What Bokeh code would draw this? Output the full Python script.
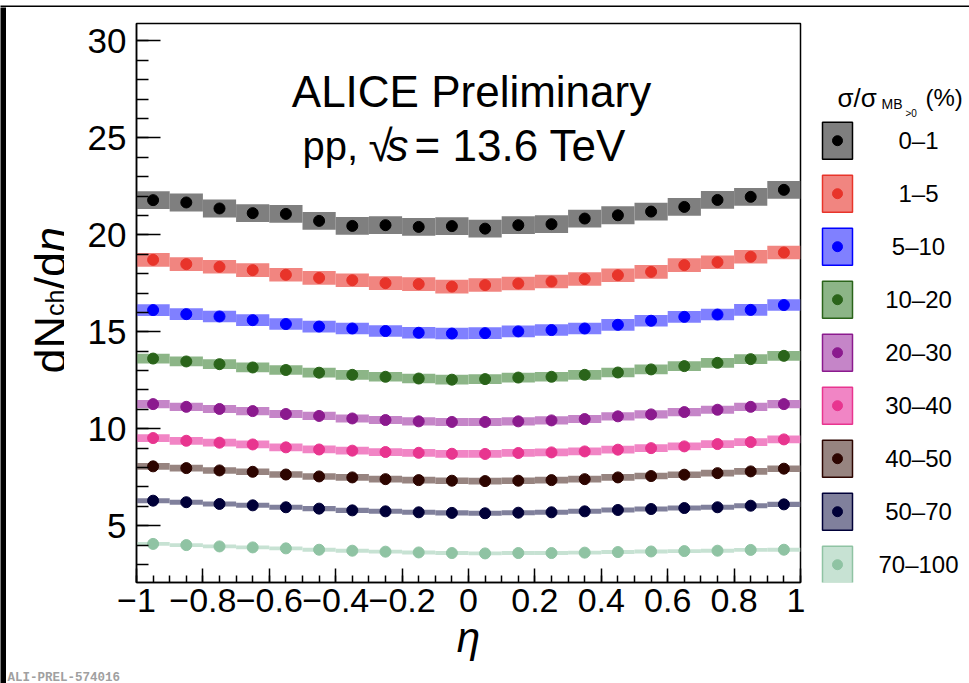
import numpy as np
from bokeh.plotting import figure
from bokeh.layouts import row, column
from bokeh.models import (ColumnDataSource, FixedTicker, CustomJSTickFormatter, Label, Range1d)
from bokeh.embed import file_html
from bokeh.resources import INLINE

# ---------------- data ----------------
eta = [-0.95, -0.85, -0.75, -0.65, -0.55, -0.45, -0.35, -0.25, -0.15, -0.05,
       0.05, 0.15, 0.25, 0.35, 0.45, 0.55, 0.65, 0.75, 0.85, 0.95]
bin_half_width = 0.05

classes = ["0\u20131", "1\u20135", "5\u201310", "10\u201320", "20\u201330",
           "30\u201340", "40\u201350", "50\u201370", "70\u2013100"]

dndeta_0_1 = [21.79, 21.67, 21.36, 21.12, 21.08, 20.72, 20.46, 20.50, 20.41, 20.45,
              20.32, 20.50, 20.55, 20.84, 21.01, 21.20, 21.44, 21.80, 21.96, 22.32]
dndeta_1_5 = [18.71, 18.49, 18.35, 18.18, 17.94, 17.78, 17.66, 17.51, 17.46, 17.33,
              17.41, 17.49, 17.59, 17.72, 17.92, 18.09, 18.44, 18.59, 18.87, 19.09]
dndeta_5_10 = [16.12, 15.91, 15.79, 15.60, 15.40, 15.27, 15.17, 15.04, 14.95, 14.91,
               14.93, 15.02, 15.09, 15.17, 15.36, 15.57, 15.77, 15.89, 16.13, 16.38]
dndeta_10_20 = [13.62, 13.47, 13.33, 13.16, 13.03, 12.89, 12.78, 12.68, 12.59, 12.53,
                12.56, 12.64, 12.68, 12.78, 12.90, 13.06, 13.23, 13.40, 13.59, 13.76]
dndeta_20_30 = [11.27, 11.13, 11.02, 10.91, 10.76, 10.66, 10.53, 10.45, 10.38, 10.35,
                10.35, 10.38, 10.43, 10.50, 10.64, 10.74, 10.86, 10.98, 11.13, 11.27]
dndeta_30_40 = [9.52, 9.38, 9.28, 9.19, 9.04, 8.93, 8.87, 8.80, 8.76, 8.71,
                8.70, 8.75, 8.78, 8.83, 8.92, 9.00, 9.09, 9.21, 9.31, 9.45]
dndeta_40_50 = [8.06, 7.97, 7.85, 7.78, 7.64, 7.54, 7.49, 7.40, 7.35, 7.32,
                7.30, 7.32, 7.35, 7.40, 7.49, 7.56, 7.63, 7.71, 7.80, 7.94]
dndeta_50_70 = [6.29, 6.21, 6.12, 6.05, 5.95, 5.88, 5.79, 5.74, 5.69, 5.66,
                5.64, 5.67, 5.69, 5.74, 5.81, 5.86, 5.91, 5.95, 6.03, 6.10]
dndeta_70_100 = [4.06, 4.00, 3.93, 3.88, 3.83, 3.76, 3.71, 3.66, 3.62, 3.59,
                 3.57, 3.59, 3.59, 3.61, 3.64, 3.67, 3.69, 3.71, 3.75, 3.76]

series = [dndeta_0_1, dndeta_1_5, dndeta_5_10, dndeta_10_20, dndeta_20_30,
          dndeta_30_40, dndeta_40_50, dndeta_50_70, dndeta_70_100]
sys_err = [0.46, 0.35, 0.30, 0.25, 0.21, 0.20, 0.17, 0.13, 0.10]

marker_colors = ["#000000", "#e8342a", "#0000ff", "#2a641a", "#8b1a8e",
                 "#e8358f", "#2d0500", "#000038", "#8fc3a3"]
box_colors = ["#7f7f7f", "#f18580", "#8080ff", "#8cb587", "#c585c8",
              "#f185c5", "#978480", "#80809c", "#c7e2d3"]

x_major = [-1.0, -0.8, -0.6, -0.4, -0.2, 0.0, 0.2, 0.4, 0.6, 0.8, 1.0]
y_major = [5, 10, 15, 20, 25, 30]

FONT = "Liberation Sans"


def blank(w, h, fill="white", xr=(0, 1), yr=(0, 1)):
    f = figure(width=w, height=h, x_range=Range1d(*xr), y_range=Range1d(*yr),
               x_axis_type=None, y_axis_type=None, output_backend="svg",
               toolbar_location=None, min_border=0, outline_line_color=None)
    f.background_fill_color = fill
    f.border_fill_color = fill
    return f


def lab(fig, x, y, text, size, style="normal", align="left", angle=0.0, color="black",
        font=FONT, baseline="alphabetic"):
    fig.add_layout(Label(x=x, y=y, x_units="screen", y_units="screen", text=text,
                         text_font=font, text_font_size=size, text_font_style=style,
                         text_align=align, text_baseline=baseline, angle=angle,
                         text_color=color))


# ---------------- main figure ----------------
p = figure(width=741, height=656, x_range=Range1d(-1, 1), y_range=Range1d(2.07, 30.9),
           output_backend="svg", toolbar_location=None,
           min_border_left=72, min_border_right=5, min_border_top=16, min_border_bottom=81)
p.grid.visible = False
p.outline_line_color = "black"
p.outline_line_width = 1.5
p.background_fill_color = "white"
p.border_fill_color = "white"

xa = p.xaxis[0]
xa.ticker = FixedTicker(ticks=x_major,
                        minor_ticks=[round(v, 2) for v in np.arange(-1.0, 1.0001, 0.05)])
xa.formatter = CustomJSTickFormatter(code="""
const a = Math.abs(tick);
const s = parseFloat(a.toFixed(2)).toString();
return (tick < -1e-9 ? '\\u2212' : '') + s;
""")
xa.major_tick_in = 14
xa.major_tick_out = 0
xa.minor_tick_in = 7
xa.minor_tick_out = 0
xa.major_label_standoff = 6
xa.major_label_text_font = FONT
xa.major_label_text_font_size = "34px"
xa.major_label_text_color = "black"
xa.axis_label = "\u03b7"
xa.axis_label_text_font = FONT
xa.axis_label_text_font_size = "42px"
xa.axis_label_text_font_style = "italic"
xa.axis_label_text_color = "black"
xa.axis_label_standoff = -1

ya = p.yaxis[0]
ya.ticker = FixedTicker(ticks=y_major, minor_ticks=list(range(3, 31)))
ya.major_tick_in = 24
ya.major_tick_out = 0
ya.minor_tick_in = 12
ya.minor_tick_out = 0
ya.major_label_standoff = 10
ya.major_label_text_font = FONT
ya.major_label_text_font_size = "35px"
ya.major_label_text_color = "black"

for ax in (xa, ya):
    ax.axis_line_color = "black"
    ax.axis_line_width = 1.5
    ax.major_tick_line_color = "black"
    ax.major_tick_line_width = 1.5
    ax.minor_tick_line_color = "black"
    ax.minor_tick_line_width = 1.5

for vals, err, mc, bc in zip(series, sys_err, marker_colors, box_colors):
    v = np.array(vals)
    e = np.array(eta)
    src = ColumnDataSource(dict(x=e, y=v, left=e - bin_half_width, right=e + bin_half_width,
                                bottom=v - err, top=v + err))
    p.quad(left="left", right="right", bottom="bottom", top="top", source=src,
           fill_color=bc, fill_alpha=1.0, line_color=None)
    p.scatter("x", "y", source=src, size=11, fill_color=mc, line_color=mc, marker="circle")

# header inside the frame
lab(p, 335, 491, "ALICE Preliminary", "44px", align="center")
lab(p, 166, 437, "pp,", "40px")
lab(p, 232, 437, "\u221a", "44px")
lab(p, 250, 437, "s", "44px", style="italic")
lab(p, 278, 437, "=", "44px")
lab(p, 316, 437, "13.6 TeV", "44px")

# ---------------- legend panel (frame aligned with the main frame, 559 px tall) -------------
right_fig = blank(164, 656, xr=(0, 164), yr=(0, 559))
n = len(classes)
pitch = 53.0
sw_top = [460.3 - pitch * i for i in range(n)]
sw_bot = [t - 37.0 for t in sw_top]
sw_mid = [t - 18.5 for t in sw_top]
right_fig.quad(left=[17] * n, right=[47] * n, top=sw_top, bottom=sw_bot,
               fill_color=box_colors, line_color=marker_colors, line_width=1.5)
right_fig.scatter(x=[32] * n, y=sw_mid, size=10, fill_color=marker_colors,
                  line_color=marker_colors, marker="circle")
for i, c in enumerate(classes):
    lab(right_fig, 113, sw_mid[i], c, "24px", align="center", baseline="middle")

# legend title  sigma/sigma_{MB_{>0}} (%)
lab(right_fig, 32, 485, "\u03c3/\u03c3", "26px")
lab(right_fig, 76, 479, "MB", "14px")
lab(right_fig, 100, 469, ">0", "10px")
lab(right_fig, 120, 485, "(%)", "24px")

# ---------------- y-axis title: dN_ch/d eta (rotated) ----------------
left_fig = blank(58, 656)
ang = np.pi / 2
lab(left_fig, 44, 209, "dN", "45px", angle=ang)
lab(left_fig, 48, 266.5, "ch", "25px", angle=ang)
lab(left_fig, 44, 293, "/d", "45px", angle=ang)
lab(left_fig, 44, 330.5, "\u03b7", "45px", style="italic", angle=ang)

# ---------------- bottom strip: preliminary tag ----------------
bottom_fig = blank(963, 20)
lab(bottom_fig, 1, 6, "ALI-PREL-574016", "12.5px", style="bold", color="#a0a0a0",
    font="Liberation Mono")

# black frame strips of the original picture
top_strip = blank(969, 7, fill="black")
left_strip = blank(6, 676, fill="black")

layout = column(top_strip,
                row(left_strip,
                    column(row(left_fig, p, right_fig), bottom_fig)))

open("out.html", "w").write(file_html(layout, INLINE))
